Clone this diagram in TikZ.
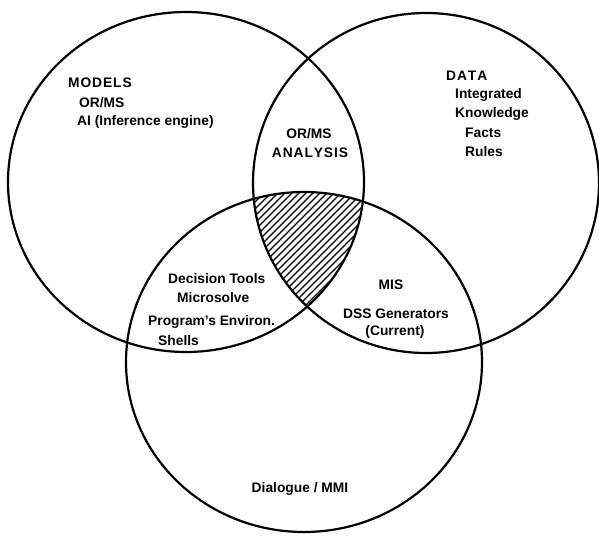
\documentclass[tikz,border=0pt]{standalone}
\usepackage{fontspec}
\setmainfont{Liberation Sans}
\usetikzlibrary{positioning}

\newcommand{\gap}{\kern0.9pt}

\begin{document}
\begin{tikzpicture}[
    x=1pt, y=-1pt,
    venn/.style={draw, line width=2.2pt},
    hatch/.style={line width=1.3pt},
    txt/.style={inner sep=0pt, anchor=base west, font=\bfseries\fontsize{13.8}{16}\selectfont},
    ctxt/.style={txt, anchor=base}]

\useasboundingbox (0,0) rectangle (599,535);

% Shaded part common to all three circles
\begin{scope}
    \clip (186,182) ellipse [x radius=178, y radius=170];
    \clip (426,183) ellipse [x radius=173, y radius=170];
    \clip (304,362) ellipse [x radius=178, y radius=170];
    \foreach \a in {70,77,...,290}
        \draw[hatch] (\a,380) -- ++(200,-200);
\end{scope}

% The three circles
\draw[venn] (186,182) ellipse [x radius=178, y radius=170];
\draw[venn] (426,183) ellipse [x radius=173, y radius=170];
\draw[venn] (304,362) ellipse [x radius=178, y radius=170];

% Models
\node[txt] (models) at (68,87) {M\gap O\gap D\gap E\gap L\gap S};
\node[txt] (orms) at (79,107) {OR/MS};
\node[txt] (ai) at (77,125) {AI (Inference engine)};

% Data
\node[txt] (data) at (446,80) {D\gap A\gap T\gap A};
\node[txt] (integ) at (455,98) {Integrated};
\node[txt] (know) at (455,117) {Knowledge};
\node[txt] (facts) at (465,137) {Facts};
\node[txt] (rules) at (465,156) {Rules};

% Models and data
\node[ctxt] (orms2) at (309,138) {OR/MS};
\node[ctxt] (analysis) at (310,157) {A\gap N\gap A\gap L\gap Y\gap S\gap I\gap S};

% Models and dialogue
\node[txt] (dtools) at (168,283) {Decision Tools};
\node[txt] (micro) at (177,302) {Microsolve};
\node[txt] (prog) at (148,325) {Program's Environ.};
\node[txt] (shells) at (158,345) {Shells};

% Data and dialogue
\node[ctxt] (mis) at (391,289) {MIS};
\node[ctxt] (dss) at (396,318) {DSS Generators};
\node[ctxt] (current) at (395,335) {(Current)};

% Dialogue
\node[ctxt] (dialog) at (300,492) {Dialogue / MMI};

\end{tikzpicture}
\end{document}
